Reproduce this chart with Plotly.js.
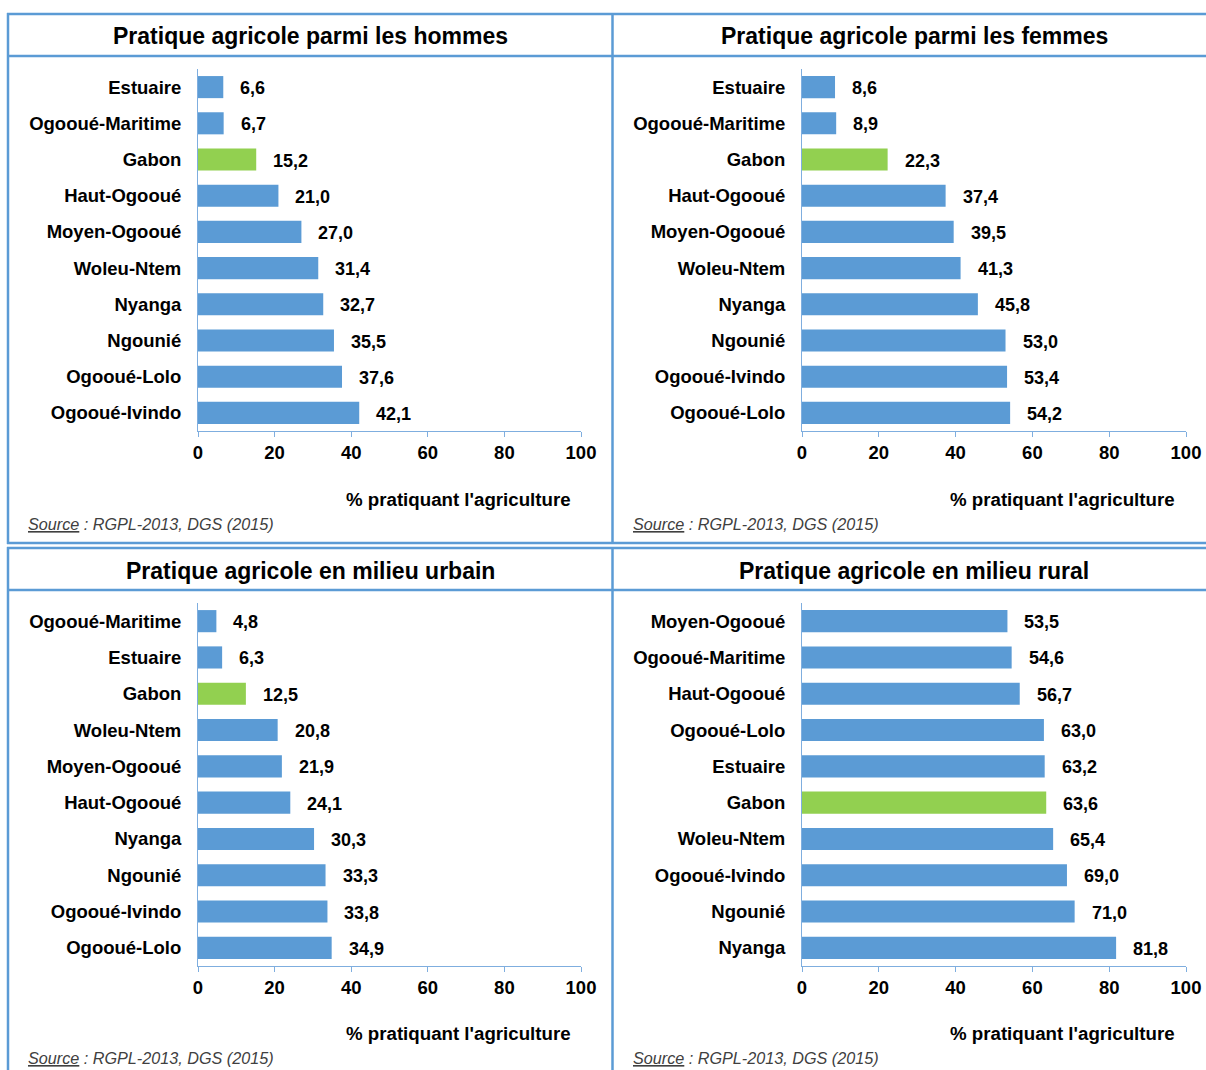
<!DOCTYPE html>
<html>
<head>
<meta charset="utf-8">
<script src="https://cdn.plot.ly/plotly-3.0.1.min.js"></script>
<style>html,body{margin:0;padding:0;background:#fff;}#chart{width:1206px;height:1070px;}</style>
</head>
<body>
<div id="chart"></div>
<script>
// ---- Data ----
const titles = [
  "Pratique agricole parmi les hommes",
  "Pratique agricole parmi les femmes",
  "Pratique agricole en milieu urbain",
  "Pratique agricole en milieu rural"
];
const hommesCats = ["Estuaire","Ogooué-Maritime","Gabon","Haut-Ogooué","Moyen-Ogooué","Woleu-Ntem","Nyanga","Ngounié","Ogooué-Lolo","Ogooué-Ivindo"];
const hommesVals = [6.6,6.7,15.2,21.0,27.0,31.4,32.7,35.5,37.6,42.1];
const femmesCats = ["Estuaire","Ogooué-Maritime","Gabon","Haut-Ogooué","Moyen-Ogooué","Woleu-Ntem","Nyanga","Ngounié","Ogooué-Ivindo","Ogooué-Lolo"];
const femmesVals = [8.6,8.9,22.3,37.4,39.5,41.3,45.8,53.0,53.4,54.2];
const urbainCats = ["Ogooué-Maritime","Estuaire","Gabon","Woleu-Ntem","Moyen-Ogooué","Haut-Ogooué","Nyanga","Ngounié","Ogooué-Ivindo","Ogooué-Lolo"];
const urbainVals = [4.8,6.3,12.5,20.8,21.9,24.1,30.3,33.3,33.8,34.9];
const ruralCats = ["Moyen-Ogooué","Ogooué-Maritime","Haut-Ogooué","Ogooué-Lolo","Estuaire","Gabon","Woleu-Ntem","Ogooué-Ivindo","Ngounié","Nyanga"];
const ruralVals = [53.5,54.6,56.7,63.0,63.2,63.6,65.4,69.0,71.0,81.8];
const xTickVals = [0,20,40,60,80,100];
const axisTitle = "% pratiquant l'agriculture";
const sourceText = "<i><u>Source</u> : RGPL-2013, DGS (2015)</i>";

// ---- Layout helpers ----
const W = 1206, H = 1070;
const px = x => x / W;
const py = y => 1 - y / H;
const FONT = "Liberation Sans, Arial, sans-serif";
const BLUE = "#5B9BD5", GREEN = "#92D050", BORDER = "#5B9BD5", AXIS = "#7FAEDF";

const panels = [
  {cats: hommesCats, vals: hommesVals, x0: 198, x1: 581, y0: 69, y1: 431, cx: 310, ty: 36, atx: 458, aty: 499, sx: 26, sy: 524},
  {cats: femmesCats, vals: femmesVals, x0: 802, x1: 1186, y0: 69, y1: 431, cx: 914, ty: 36, atx: 1062, aty: 499, sx: 631, sy: 524},
  {cats: urbainCats, vals: urbainVals, x0: 198, x1: 581, y0: 603, y1: 966, cx: 310, ty: 571, atx: 458, aty: 1033, sx: 26, sy: 1058},
  {cats: ruralCats, vals: ruralVals, x0: 802, x1: 1186, y0: 603, y1: 966, cx: 914, ty: 571, atx: 1062, aty: 1033, sx: 631, sy: 1058}
];

const fmt = v => v.toFixed(1).replace(".", ",");

const data = [];
const annotations = [];
const layout = {
  width: W, height: H,
  margin: {l: 0, r: 0, t: 0, b: 0},
  paper_bgcolor: "#ffffff", plot_bgcolor: "rgba(0,0,0,0)",
  showlegend: false,
  font: {family: FONT, color: "#000"},
  shapes: [],
  annotations: annotations
};

panels.forEach((p, i) => {
  const n = i + 1;
  const xa = n === 1 ? "x" : "x" + n;
  const ya = n === 1 ? "y" : "y" + n;
  data.push({
    type: "bar", orientation: "h",
    x: p.vals, y: p.cats,
    xaxis: xa, yaxis: ya,
    marker: {color: p.cats.map(c => c === "Gabon" ? GREEN : BLUE)},
    width: 0.61,
    hoverinfo: "x+y"
  });
  p.vals.forEach((v, k) => {
    annotations.push({
      x: v, y: p.cats[k], xref: xa, yref: ya,
      text: fmt(v), showarrow: false, xanchor: "left", yanchor: "middle",
      xshift: 15, yshift: -1,
      font: {family: FONT, size: 18, weight: "bold", color: "#000"}
    });
  });
  layout["xaxis" + (n === 1 ? "" : n)] = {
    domain: [px(p.x0), px(p.x1)], anchor: ya,
    range: [0, 100], tickvals: xTickVals, ticktext: xTickVals.map(String),
    showgrid: false, zeroline: false,
    showline: true, linecolor: AXIS, linewidth: 1,
    ticks: "outside", ticklen: 5, tickcolor: AXIS, tickwidth: 1,
    tickfont: {family: FONT, size: 18.5, weight: "bold", color: "#000"},
    fixedrange: true
  };
  layout["yaxis" + (n === 1 ? "" : n)] = {
    domain: [py(p.y1), py(p.y0)], anchor: xa,
    type: "category", categoryorder: "array", categoryarray: p.cats,
    range: [p.cats.length - 0.5, -0.5],
    showgrid: false, zeroline: false,
    showline: true, linecolor: AXIS, linewidth: 1,
    ticks: "", ticklabelstandoff: 12,
    tickfont: {family: FONT, size: 18.5, weight: "bold", color: "#000"},
    fixedrange: true
  };
  annotations.push({
    x: px(p.cx), y: py(p.ty), xref: "paper", yref: "paper",
    text: titles[i], showarrow: false, xanchor: "center", yanchor: "middle",
    font: {family: FONT, size: 23, weight: "bold", color: "#000"}
  });
  annotations.push({
    x: px(p.atx), y: py(p.aty), xref: "paper", yref: "paper",
    text: axisTitle, showarrow: false, xanchor: "center", yanchor: "middle",
    font: {family: FONT, size: 18.7, weight: "bold", color: "#000"}
  });
  annotations.push({
    x: px(p.sx), y: py(p.sy), xref: "paper", yref: "paper",
    text: sourceText, showarrow: false, xanchor: "left", yanchor: "middle",
    font: {family: FONT, size: 16.2, color: "#404040"}
  });
});

// Panel borders
function hline(y, x0, x1) {
  layout.shapes.push({type: "line", xref: "paper", yref: "paper", x0: px(x0), x1: px(x1), y0: py(y), y1: py(y), line: {color: BORDER, width: 2.5}});
}
function vline(x, y0, y1) {
  layout.shapes.push({type: "line", xref: "paper", yref: "paper", x0: px(x), x1: px(x), y0: py(y0), y1: py(y1), line: {color: BORDER, width: 2.5}});
}
hline(14, 7, 1230); hline(56, 7, 1230); hline(543, 7, 1230);
hline(548, 7, 1230); hline(590, 7, 1230);
vline(8, 13, 544); vline(612.5, 13, 544);
vline(8, 547, 1080); vline(612.5, 547, 1080);

Plotly.newPlot("chart", data, layout, {staticPlot: true, displayModeBar: false});
</script>
</body>
</html>
